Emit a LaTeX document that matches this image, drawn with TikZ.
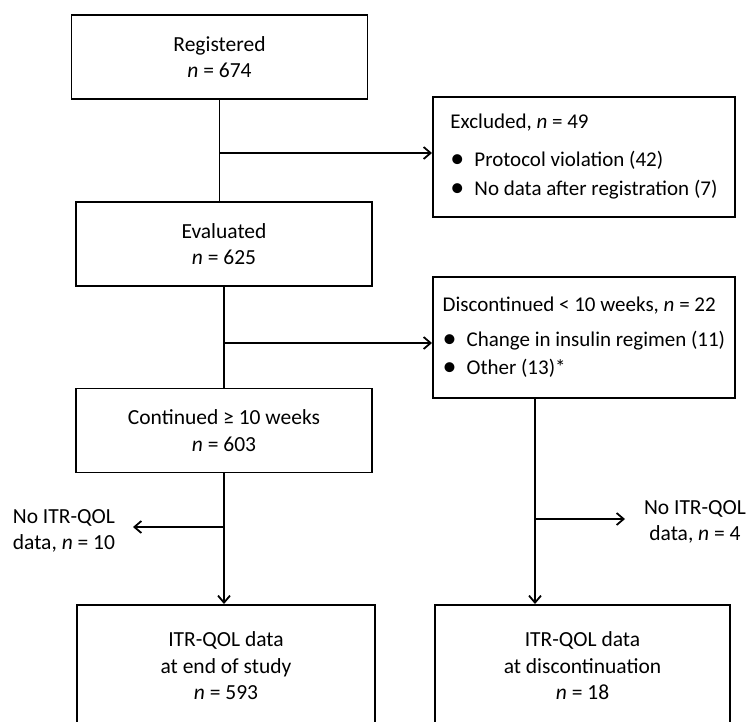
\documentclass[tikz,border=0pt]{standalone}
\usepackage{fontspec}
\setmainfont{Carlito}
\usetikzlibrary{arrows.meta}
\newcommand{\bul}{\makebox[24pt][l]{\raisebox{-1pt}{\fontsize{28}{0}\selectfont•}}}
\begin{document}
\begin{tikzpicture}[x=1pt, y=-1pt, line width=1.8pt, >={Straight Barb[length=7pt,width=12pt]},
    box/.style={rectangle, draw, minimum width=296pt, minimum height=84pt, align=center, font=\fontsize{21.5}{26.5}\selectfont},
    listbox/.style={rectangle, draw, anchor=north west, minimum width=302pt, inner xsep=9pt, minimum height=121pt, align=left, font=\fontsize{21}{26.5}\selectfont},
    note/.style={inner sep=0pt, font=\fontsize{21.5}{26.5}\selectfont}]
    \useasboundingbox (0,0) rectangle (749,721);
        % Nodes
    \node (registered) [box] at (219.5,57) {Registered\\\textit{n} = 674};
    \node (evaluated) [box] at (224,244) {Evaluated\\\textit{n} = 625};
    \node (continued) [box] at (224,430.5) {Continued ≥ 10 weeks\\\textit{n} = 603};
    \node (excluded) [listbox, minimum height=120pt] at (432,96) {Excluded, \textit{n} = 49\\[11pt]\bul Protocol violation (42)\\[3pt]\bul No data after registration (7)};
    \node (discontinued) [listbox] at (432,276) {Discontinued < 10 weeks, \textit{n} = 22\\[8pt]\bul Change in insulin regimen (11)\\[2pt]\bul Other (13)*};
    \node (endstudy) [box, minimum width=298pt, minimum height=122pt, anchor=north] at (226,604) {ITR-QOL data\\at end of study\\\textit{n} = 593};
    \node (enddisc) [box, minimum width=295pt, minimum height=122pt, anchor=north] at (582.5,604) {ITR-QOL data\\at discontinuation\\\textit{n} = 18};
    \node (lostleft) [note, align=left, anchor=west] at (12,531) {No ITR-QOL\\data, \textit{n} = 10};
    \node (lostright) [note, align=center] at (695,522) {No ITR-QOL\\data, \textit{n} = 4};

    \coordinate (fork1) at (registered.south |- 0,153);
    \coordinate (fork2) at (evaluated.south |- 0,343);
    \coordinate (fork3) at (continued.south |- 0,527);
    \coordinate (discout) at (535,0 |- discontinued.south);
    \coordinate (fork4) at (discout |- 0,519);
    \coordinate (tipleft) at (133,527);
    \coordinate (tipright) at (625,519);

    % Arrows
    \draw (registered.south) -- (registered.south |- evaluated.north);
    \draw[->] (fork1) -- (fork1 -| excluded.west);
    \draw (evaluated.south) -- (evaluated.south |- continued.north);
    \draw[->] (fork2) -- (fork2 -| discontinued.west);
    \draw[->] (continued.south) -- (continued.south |- endstudy.north);
    \draw[->] (fork3) -- (tipleft);
    \draw[->] (discout) -- (discout |- enddisc.north);
    \draw[->] (fork4) -- (tipright);
\end{tikzpicture}
\end{document}
